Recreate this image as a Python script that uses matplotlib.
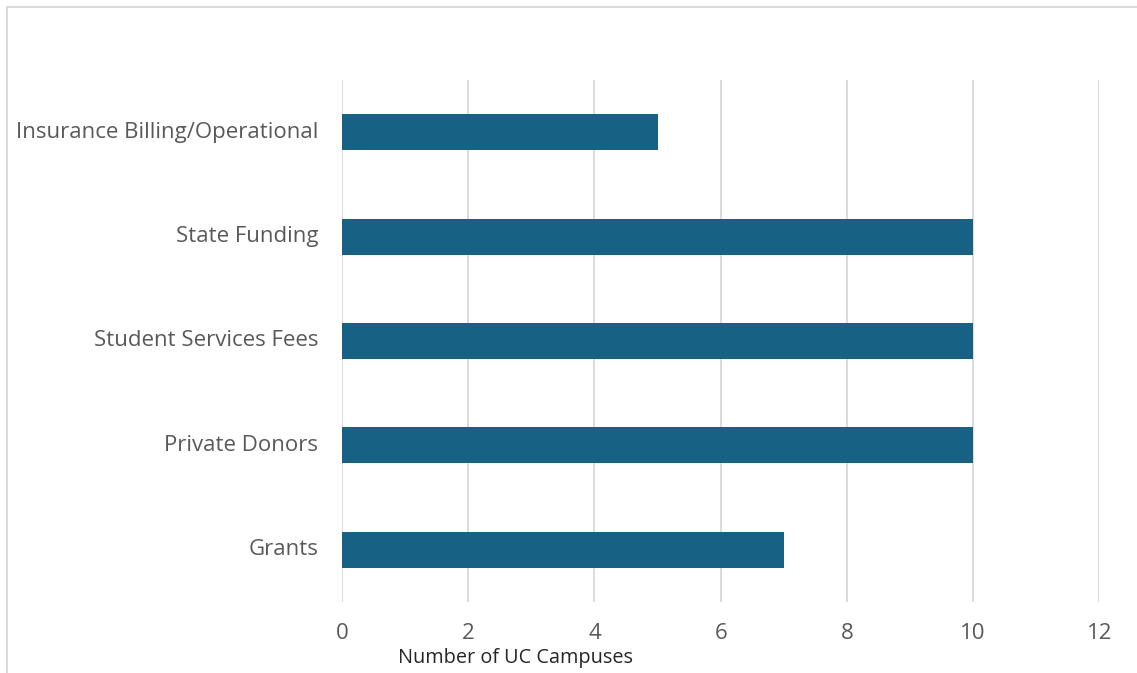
import matplotlib
matplotlib.use("Agg")
import matplotlib.pyplot as plt
from matplotlib.lines import Line2D

categories = ["Grants", "Private Donors", "Student Services Fees",
              "State Funding", "Insurance Billing/Operational"]
campuses = [7, 10, 10, 10, 5]
x_ticks = [0, 2, 4, 6, 8, 10, 12]

W, H = 1137, 673
fig = plt.figure(figsize=(W / 100, H / 100), dpi=100)
fig.patch.set_facecolor("white")

ax = fig.add_axes([342 / W, 1 - 602 / H, (1099.3 - 342) / W, (602 - 80) / H])
ax.barh(range(len(categories)), campuses, height=0.345, color="#176184", zorder=3)

ax.set_xlim(0, 12)
ax.set_ylim(-0.5, len(categories) - 0.5)
ax.set_xticks(x_ticks)
ax.set_yticks(range(len(categories)))
ax.set_yticklabels(categories)
ax.grid(axis="x", color="#d9d9d9", linewidth=1.3, zorder=0)
for s in ax.spines.values():
    s.set_visible(False)
ax.tick_params(axis="both", length=0, labelsize=16, labelcolor="#595959")
ax.tick_params(axis="y", pad=17)
ax.tick_params(axis="x", pad=15)
for lab in ax.get_xticklabels() + ax.get_yticklabels():
    lab.set_fontfamily("Open Sans")
for lab in ax.get_yticklabels():
    lab.set_verticalalignment("center")

fig.text(515 / W, 1 - 658 / H, "Number of UC Campuses", ha="center", va="center",
         fontsize=14.3, color="#262626", fontfamily="Open Sans")

# outer frame of the chart area
fig.add_artist(Line2D([7 / W, 7 / W], [0, 1 - 7 / H], transform=fig.transFigure,
                      color="#d9d9d9", linewidth=1.3))
fig.add_artist(Line2D([7 / W, 1], [1 - 7 / H, 1 - 7 / H], transform=fig.transFigure,
                      color="#d9d9d9", linewidth=1.3))

fig.savefig("out.png", dpi=100)
